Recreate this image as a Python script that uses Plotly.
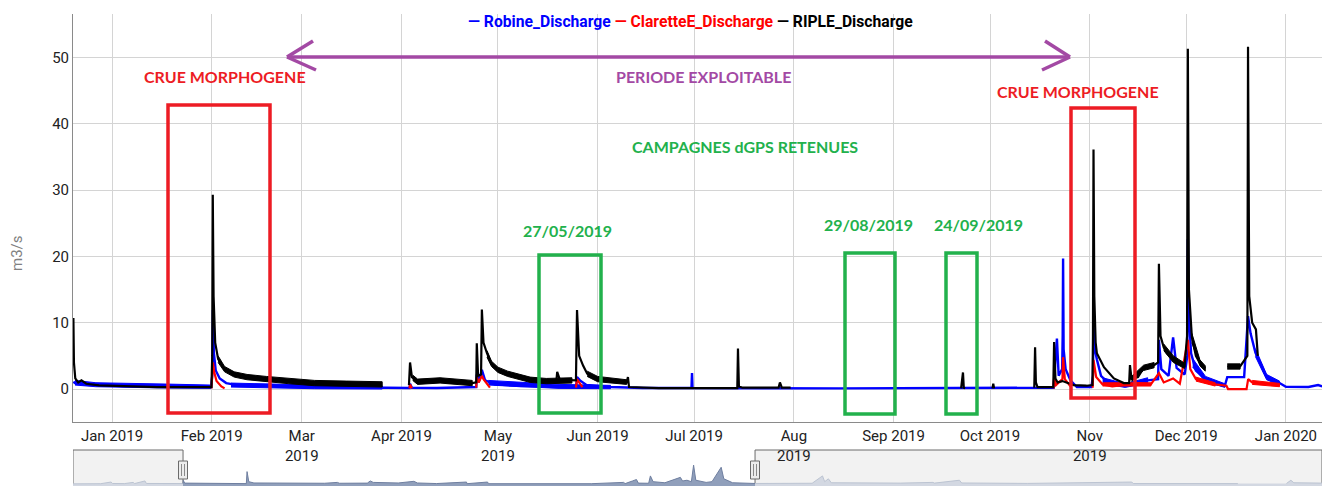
import plotly.graph_objects as go

# ---------------- data ----------------
robine = [
    ("2018-12-20 00:00", 1.1), ("2018-12-20 12:00", 0.9), ("2018-12-23 00:00", 0.7),
    ("2018-12-27 00:00", 0.6), ("2019-01-05 00:00", 0.45), ("2019-01-18 00:00", 0.4),
    ("2019-01-31 20:00", 0.35), ("2019-02-01 04:00", 2.0), ("2019-02-01 09:00", 11.9),
    ("2019-02-01 16:00", 5.5), ("2019-02-02 06:00", 2.8), ("2019-02-03 12:00", 1.6),
    ("2019-02-05 12:00", 0.9), ("2019-02-09 00:00", 0.6), ("2019-02-14 00:00", 0.45),
    ("2019-02-19 00:00", 0.6), ("2019-02-21 00:00", 0.4), ("2019-03-05 00:00", 0.3),
    ("2019-03-20 00:00", 0.25), ("2019-04-01 00:00", 0.12), ("2019-04-03 12:00", 0.15),
    ("2019-04-03 16:00", 0.8), ("2019-04-04 06:00", 0.2), ("2019-04-12 00:00", 0.15),
    ("2019-04-22 00:00", 0.25), ("2019-04-24 06:00", 0.3), ("2019-04-24 10:00", 2.2),
    ("2019-04-25 00:00", 1.0), ("2019-04-26 00:00", 2.9), ("2019-04-27 00:00", 1.3),
    ("2019-04-30 00:00", 0.7), ("2019-05-08 00:00", 0.45), ("2019-05-20 00:00", 0.4),
    ("2019-05-25 08:00", 0.5), ("2019-05-25 14:00", 1.8), ("2019-05-26 12:00", 1.3),
    ("2019-05-28 12:00", 0.6), ("2019-06-05 00:00", 0.3), ("2019-06-15 00:00", 0.15),
    ("2019-06-30 04:00", 0.15), ("2019-06-30 08:00", 2.4), ("2019-06-30 12:00", 0.15),
    ("2019-08-15 00:00", 0.1), ("2019-09-20 00:00", 0.12), ("2019-10-15 00:00", 0.15),
    ("2019-10-20 18:00", 0.2), ("2019-10-21 19:00", 7.6), ("2019-10-22 08:00", 2.0),
    ("2019-10-23 10:00", 3.0), ("2019-10-23 14:00", 8.1), ("2019-10-23 17:00", 19.7),
    ("2019-10-23 21:00", 6.0), ("2019-10-24 12:00", 3.0), ("2019-10-26 00:00", 1.3),
    ("2019-10-28 00:00", 0.3), ("2019-11-01 12:00", 0.3), ("2019-11-02 00:00", 2.0),
    ("2019-11-02 04:00", 9.3), ("2019-11-02 14:00", 6.0), ("2019-11-03 06:00", 4.4),
    ("2019-11-04 12:00", 2.0), ("2019-11-07 00:00", 0.8), ("2019-11-12 00:00", 0.5),
    ("2019-11-16 00:00", 0.8), ("2019-11-19 00:00", 1.3), ("2019-11-22 06:00", 1.5),
    ("2019-11-22 12:00", 7.4), ("2019-11-23 06:00", 3.0), ("2019-11-25 12:00", 2.0),
    ("2019-11-26 22:00", 7.8), ("2019-11-28 00:00", 3.2), ("2019-11-30 12:00", 2.2),
    ("2019-12-01 08:00", 5.0), ("2019-12-01 12:00", 22.6), ("2019-12-01 18:00", 11.9),
    ("2019-12-02 12:00", 5.4), ("2019-12-04 00:00", 2.8), ("2019-12-07 00:00", 1.5),
    ("2019-12-10 00:00", 0.8), ("2019-12-13 00:00", 0.5), ("2019-12-13 18:00", 1.8),
    ("2019-12-19 00:00", 1.8), ("2019-12-20 05:00", 11.0), ("2019-12-21 00:00", 8.4),
    ("2019-12-22 12:00", 5.5), ("2019-12-24 00:00", 3.9), ("2019-12-26 00:00", 1.8),
    ("2019-12-30 00:00", 0.9), ("2020-01-01 00:00", 0.35), ("2020-01-08 00:00", 0.3),
    ("2020-01-11 00:00", 0.6), ("2020-01-12 06:00", 0.4),
]
# spread (low, high) of the noisy blue signal where it shows as a thick band
robine_band = [
    ("2018-12-20 12:00", 0.6, 1.3), ("2018-12-27 00:00", 0.35, 0.95),
    ("2019-01-18 00:00", 0.15, 0.75), ("2019-01-31 18:00", 0.1, 0.6), None,
    ("2019-02-07 00:00", 0.3, 0.9), ("2019-03-05 00:00", 0.05, 0.6),
    ("2019-03-26 00:00", 0.0, 0.5), None,
    ("2019-04-28 00:00", 0.6, 1.3), ("2019-05-20 00:00", 0.1, 0.7),
    ("2019-06-05 00:00", 0.05, 0.55), None,
    ("2019-11-05 00:00", 0.8, 1.7), ("2019-11-12 00:00", 0.25, 0.8),
    ("2019-11-19 00:00", 0.9, 1.7), None,
    ("2019-12-03 00:00", 3.3, 4.6), ("2019-12-07 00:00", 1.1, 1.9),
    ("2019-12-13 00:00", 0.25, 0.8), None,
    ("2019-12-22 12:00", 4.9, 6.1), ("2019-12-26 00:00", 1.4, 2.2),
    ("2019-12-30 00:00", 0.6, 1.2),
]

clarette = [
    ("2019-01-31 22:00", 0.1), ("2019-02-01 09:00", 4.0), ("2019-02-01 18:00", 2.6),
    ("2019-02-02 12:00", 1.2), ("2019-02-04 00:00", 0.4), ("2019-02-05 00:00", 0.1),
    ("2019-02-05 06:00", None),
    ("2019-04-03 12:00", 0.1), ("2019-04-03 16:00", 0.7), ("2019-04-04 06:00", 0.1),
    ("2019-04-04 12:00", None),
    ("2019-04-24 06:00", 0.2), ("2019-04-24 10:00", 1.8), ("2019-04-25 00:00", 1.0),
    ("2019-04-26 00:00", 2.0), ("2019-04-26 12:00", 1.5), ("2019-04-27 12:00", 0.8),
    ("2019-04-28 12:00", 0.2), ("2019-04-29 00:00", None),
    ("2019-05-25 06:00", 0.2), ("2019-05-25 14:00", 1.5), ("2019-05-26 06:00", 1.0),
    ("2019-05-27 06:00", 0.3), ("2019-05-27 12:00", None),
    ("2019-10-20 18:00", 0.1), ("2019-10-20 22:00", 1.8), ("2019-10-21 12:00", 0.6),
    ("2019-10-23 12:00", 1.5), ("2019-10-23 17:00", 4.8), ("2019-10-24 06:00", 1.5),
    ("2019-10-26 00:00", 0.4), ("2019-10-26 06:00", None),
    ("2019-11-01 22:00", 0.2), ("2019-11-02 04:00", 4.4), ("2019-11-03 00:00", 1.8),
    ("2019-11-05 00:00", 0.7), ("2019-11-08 00:00", 0.4), ("2019-11-12 00:00", 0.7),
    ("2019-11-16 00:00", 0.9), ("2019-11-20 00:00", 0.7), ("2019-11-22 12:00", 2.4),
    ("2019-11-24 00:00", 1.0), ("2019-11-26 22:00", 1.6), ("2019-11-29 00:00", 0.8),
    ("2019-12-01 12:00", 7.4), ("2019-12-02 06:00", 3.0), ("2019-12-04 00:00", 1.5),
    ("2019-12-07 00:00", 1.0), ("2019-12-10 00:00", 0.7), ("2019-12-13 12:00", 0.5),
    ("2019-12-14 00:00", 0.0), ("2019-12-19 18:00", 0.0), ("2019-12-20 06:00", 1.5),
    ("2019-12-21 12:00", 1.0), ("2019-12-25 00:00", 0.8), ("2019-12-30 00:00", 0.6),
]
clarette_band = [
    ("2019-11-05 00:00", 0.45, 0.95), ("2019-11-12 00:00", 0.45, 0.95),
    ("2019-11-20 00:00", 0.45, 0.95), None,
    ("2019-12-04 00:00", 1.2, 1.8), ("2019-12-10 00:00", 0.45, 0.95), None,
    ("2019-12-21 12:00", 0.7, 1.3), ("2019-12-30 00:00", 0.35, 0.85),
]

riple = [
    ("2018-12-20 00:00", 10.7), ("2018-12-20 04:00", 4.0), ("2018-12-20 14:00", 1.6),
    ("2018-12-21 12:00", 1.0), ("2018-12-22 12:00", 1.3), ("2018-12-24 00:00", 0.8),
    ("2018-12-28 00:00", 0.55), ("2019-01-05 00:00", 0.4), ("2019-01-15 00:00", 0.3),
    ("2019-01-31 22:00", 0.3), ("2019-02-01 04:00", 5.0), ("2019-02-01 08:00", 29.3),
    ("2019-02-01 14:00", 14.0), ("2019-02-02 02:00", 7.0), ("2019-02-03 00:00", 4.5),
    ("2019-02-05 00:00", 3.0), ("2019-02-08 00:00", 2.2), ("2019-02-12 00:00", 1.8),
    ("2019-02-18 00:00", 1.5), ("2019-02-25 00:00", 1.2), ("2019-03-05 00:00", 0.9),
    ("2019-03-15 00:00", 0.8), ("2019-03-26 00:00", 0.7), ("2019-03-26 06:00", None),
    ("2019-04-03 08:00", 0.6), ("2019-04-03 16:00", 4.0), ("2019-04-04 06:00", 1.8),
    ("2019-04-06 00:00", 1.1), ("2019-04-11 00:00", 1.0), ("2019-04-13 00:00", 1.5),
    ("2019-04-15 00:00", 1.0), ("2019-04-23 00:00", 0.9), ("2019-04-24 06:00", 1.0),
    ("2019-04-24 10:00", 6.9), ("2019-04-24 20:00", 2.0), ("2019-04-25 18:00", 2.2),
    ("2019-04-26 00:00", 12.0), ("2019-04-26 12:00", 7.0), ("2019-04-27 14:00", 5.4),
    ("2019-04-29 00:00", 3.8), ("2019-05-01 00:00", 2.9), ("2019-05-04 00:00", 2.3),
    ("2019-05-06 12:00", 1.9), ("2019-05-11 00:00", 1.4), ("2019-05-16 00:00", 1.2),
    ("2019-05-19 04:00", 1.2), ("2019-05-19 10:00", 2.6), ("2019-05-20 06:00", 1.4),
    ("2019-05-25 06:00", 1.3), ("2019-05-25 14:00", 11.9), ("2019-05-26 06:00", 5.0),
    ("2019-05-27 12:00", 3.5), ("2019-05-28 18:00", 2.3), ("2019-06-01 00:00", 1.5),
    ("2019-06-05 00:00", 1.2), ("2019-06-10 00:00", 1.0), ("2019-06-10 10:00", 1.8),
    ("2019-06-10 18:00", 0.3), ("2019-06-20 00:00", 0.15), ("2019-07-14 10:00", 0.15),
    ("2019-07-14 15:00", 6.1), ("2019-07-14 22:00", 0.4), ("2019-07-16 00:00", 0.2),
    ("2019-07-27 06:00", 0.2), ("2019-07-27 16:00", 1.0), ("2019-07-28 06:00", 0.2),
    ("2019-07-31 00:00", 0.2), ("2019-07-31 06:00", None),
    ("2019-09-22 00:00", 0.1), ("2019-09-22 14:00", 2.5), ("2019-09-22 20:00", 0.2),
    ("2019-09-23 06:00", 0.1), ("2019-09-23 12:00", None),
    ("2019-10-01 18:00", 0.1), ("2019-10-02 00:00", 0.8), ("2019-10-02 06:00", 0.1),
    ("2019-10-02 12:00", None),
    ("2019-10-14 18:00", 0.2), ("2019-10-15 00:00", 6.3), ("2019-10-15 06:00", 1.0),
    ("2019-10-15 18:00", 0.3), ("2019-10-20 16:00", 0.3), ("2019-10-20 22:00", 7.1),
    ("2019-10-21 08:00", 1.6), ("2019-10-22 00:00", 1.0), ("2019-10-23 12:00", 1.2),
    ("2019-10-25 00:00", 0.9), ("2019-10-27 00:00", 0.6), ("2019-10-31 00:00", 0.5),
    ("2019-11-01 20:00", 0.6), ("2019-11-02 00:00", 8.0), ("2019-11-02 04:00", 36.1),
    ("2019-11-02 10:00", 14.0), ("2019-11-02 20:00", 7.0), ("2019-11-03 05:00", 5.4),
    ("2019-11-05 10:00", 3.3), ("2019-11-08 12:00", 1.6), ("2019-11-11 14:00", 0.9),
    ("2019-11-13 06:00", 0.9), ("2019-11-13 12:00", 3.6), ("2019-11-14 00:00", 1.5),
    ("2019-11-16 00:00", 1.8), ("2019-11-17 18:00", 3.2), ("2019-11-21 00:00", 3.6),
    ("2019-11-22 06:00", 4.0), ("2019-11-22 12:00", 18.9), ("2019-11-23 00:00", 8.0),
    ("2019-11-24 00:00", 6.3), ("2019-11-25 00:00", 5.4), ("2019-11-27 00:00", 4.5),
    ("2019-11-28 00:00", 4.0), ("2019-11-30 12:00", 3.5), ("2019-12-01 06:00", 8.0),
    ("2019-12-01 12:00", 51.3), ("2019-12-01 20:00", 15.0), ("2019-12-02 18:00", 7.8),
    ("2019-12-04 00:00", 5.0), ("2019-12-05 06:00", 3.9), ("2019-12-06 22:00", 3.1),
    ("2019-12-07 06:00", None),
    ("2019-12-13 18:00", 3.4), ("2019-12-17 18:00", 3.4), ("2019-12-20 00:00", 5.0),
    ("2019-12-20 05:00", 51.6), ("2019-12-20 14:00", 14.0), ("2019-12-21 12:00", 10.0),
    ("2019-12-22 16:00", 9.0), ("2019-12-23 06:00", 5.0),
]
riple_band = [
    ("2019-02-03 00:00", 4.0, 5.0), ("2019-02-05 00:00", 2.6, 3.4),
    ("2019-02-08 00:00", 1.8, 2.6), ("2019-02-12 00:00", 1.4, 2.2),
    ("2019-02-18 00:00", 1.1, 1.9), ("2019-02-25 00:00", 0.8, 1.6),
    ("2019-03-05 00:00", 0.5, 1.3), ("2019-03-15 00:00", 0.4, 1.2),
    ("2019-03-26 00:00", 0.3, 1.1), None,
    ("2019-04-04 12:00", 1.3, 2.1), ("2019-04-06 00:00", 0.7, 1.5),
    ("2019-04-13 00:00", 0.9, 1.7), ("2019-04-23 00:00", 0.5, 1.3), None,
    ("2019-04-27 14:00", 4.8, 5.8), ("2019-04-29 00:00", 3.4, 4.2),
    ("2019-05-01 00:00", 2.5, 3.3), ("2019-05-04 00:00", 1.9, 2.7),
    ("2019-05-11 00:00", 1.0, 1.8), ("2019-05-16 00:00", 0.8, 1.6),
    ("2019-05-24 00:00", 0.9, 1.7), None,
    ("2019-05-28 18:00", 1.9, 2.7), ("2019-06-01 00:00", 1.1, 1.9),
    ("2019-06-10 00:00", 0.7, 1.4), None,
    ("2019-11-14 00:00", 1.1, 1.9), ("2019-11-17 18:00", 2.8, 3.6),
    ("2019-11-21 00:00", 3.2, 4.0), None,
    ("2019-11-24 00:00", 5.8, 6.8), ("2019-11-27 00:00", 4.0, 5.0),
    ("2019-11-30 12:00", 3.1, 3.9), None,
    ("2019-12-02 18:00", 7.0, 8.4), ("2019-12-05 06:00", 3.5, 4.4),
    ("2019-12-06 22:00", 2.7, 3.5), None,
    ("2019-12-13 18:00", 3.0, 3.8), ("2019-12-17 18:00", 3.0, 3.8),
]

# navigator (range selector) overview, in navigator units
nav_before = [
    ("2018-10-06 04:00", 3.0), ("2018-10-25 00:00", 3.2), ("2018-11-01 00:00", 5.5),
    ("2018-11-02 00:00", 3.5), ("2018-11-10 00:00", 3.3), ("2018-11-16 00:00", 5.0),
    ("2018-11-17 00:00", 3.4), ("2018-11-24 00:00", 7.0), ("2018-11-25 00:00", 3.5),
    ("2018-12-19 21:00", 3.4),
]
nav_window = [
    ("2018-12-19 21:00", 3.4), ("2018-12-20 00:00", 8.0), ("2018-12-21 00:00", 4.0),
    ("2019-01-31 20:00", 3.3), ("2019-02-01 08:00", 20.0), ("2019-02-02 12:00", 6.0),
    ("2019-02-06 00:00", 4.2), ("2019-03-26 00:00", 3.8), ("2019-04-03 16:00", 5.0),
    ("2019-04-05 00:00", 3.8), ("2019-04-24 00:00", 4.0), ("2019-04-26 00:00", 7.0),
    ("2019-04-28 00:00", 5.0), ("2019-05-15 00:00", 4.2), ("2019-05-25 14:00", 6.5),
    ("2019-05-28 00:00", 4.2), ("2019-06-10 00:00", 3.4), ("2019-06-30 08:00", 5.5),
    ("2019-06-30 14:00", 3.2), ("2019-07-14 15:00", 5.5), ("2019-07-15 06:00", 3.2),
    ("2019-09-22 14:00", 4.0), ("2019-09-23 00:00", 3.2), ("2019-10-15 00:00", 5.0),
    ("2019-10-16 00:00", 3.3), ("2019-10-21 00:00", 7.0), ("2019-10-23 17:00", 9.0),
    ("2019-10-25 00:00", 4.0), ("2019-11-01 00:00", 3.8), ("2019-11-02 04:00", 14.0),
    ("2019-11-04 00:00", 6.0), ("2019-11-12 00:00", 4.5), ("2019-11-22 12:00", 12.0),
    ("2019-11-24 00:00", 7.0), ("2019-11-27 00:00", 8.0), ("2019-11-30 00:00", 6.0),
    ("2019-12-01 12:00", 29.0), ("2019-12-03 00:00", 8.0), ("2019-12-10 00:00", 5.0),
    ("2019-12-14 00:00", 6.0), ("2019-12-20 05:00", 26.0), ("2019-12-22 00:00", 10.0),
    ("2019-12-28 00:00", 4.5), ("2020-01-12 05:00", 3.5),
]
nav_after = [
    ("2020-01-12 05:00", 3.5), ("2020-02-20 00:00", 3.8), ("2020-02-27 00:00", 14.0),
    ("2020-02-28 12:00", 6.0), ("2020-03-02 00:00", 10.0), ("2020-03-04 00:00", 4.5),
    ("2020-04-20 00:00", 4.0), ("2020-05-12 00:00", 5.0), ("2020-05-13 00:00", 4.0),
    ("2020-05-30 00:00", 8.0), ("2020-05-31 12:00", 4.2), ("2020-07-15 00:00", 3.6),
    ("2020-09-24 00:00", 5.5), ("2020-09-25 00:00", 3.4), ("2020-12-05 00:00", 3.3),
    ("2020-12-05 06:00", None), ("2021-01-07 00:00", 3.5), ("2021-01-10 00:00", 8.0),
    ("2021-01-12 00:00", 4.5), ("2021-01-31 03:00", 4.0),
]

x_tickvals = ["2019-01-01", "2019-02-01", "2019-03-01", "2019-04-01", "2019-05-01",
              "2019-06-01", "2019-07-01", "2019-08-01", "2019-09-01", "2019-10-01",
              "2019-11-01", "2019-12-01", "2020-01-01"]
x_ticktext = ["Jan 2019", "Feb 2019", "Mar<br>2019", "Apr 2019", "May<br>2019",
              "Jun 2019", "Jul 2019", "Aug<br>2019", "Sep 2019", "Oct 2019",
              "Nov<br>2019", "Dec 2019", "Jan 2020"]
y_tickvals = [0, 10, 20, 30, 40, 50]

main_range = ["2018-12-19 21:00", "2020-01-12 05:00"]
nav_range = ["2018-10-06 04:00", "2021-01-31 03:00"]

# ---------------- layout helpers (page pixel -> paper) ----------------
OFF = 0                      # body margin removed below, figure sits at (0, 0)
W, H = 1322 - OFF, 486 - OFF
ML, MR, MT, MB = 73 - OFF, 0, 14 - OFF, 0
PW, PH = W - ML - MR, H - MT - MB


def fx(px):
    return (px - OFF - ML) / PW


def fy(py):
    return (OFF + H - MB - py) / PH


def unzip(pts):
    return [p[0] for p in pts], [p[1] for p in pts]


def band_segments(band):
    seg = []
    for item in band + [None]:
        if item is None:
            if seg:
                yield seg
            seg = []
        else:
            seg.append(item)


fig = go.Figure()


def add_series(name, pts, band, color, width):
    xs, ys = unzip(pts)
    fig.add_trace(go.Scatter(x=xs, y=ys, name=name, mode="lines",
                             line=dict(color=color, width=width),
                             connectgaps=False, xaxis="x", yaxis="y"))
    for seg in band_segments(band):
        bx = [s[0] for s in seg] + [s[0] for s in reversed(seg)]
        by = [s[2] for s in seg] + [s[1] for s in reversed(seg)]
        fig.add_trace(go.Scatter(x=bx, y=by, mode="lines", fill="toself",
                                 fillcolor=color, line=dict(color=color, width=1),
                                 showlegend=False, hoverinfo="skip",
                                 xaxis="x", yaxis="y"))


add_series("Robine_Discharge", robine, robine_band, "#0000ff", 2.4)
add_series("ClaretteE_Discharge", clarette, clarette_band, "#ff0000", 2.2)
add_series("RIPLE_Discharge", riple, riple_band, "#000000", 2.2)

for pts, fillc, linec in [(nav_before, "#d3d8e2", "#bcc4d2"),
                          (nav_window, "#909fbb", "#6f7fa0"),
                          (nav_after, "#d3d8e2", "#bcc4d2")]:
    xs, ys = unzip(pts)
    fig.add_trace(go.Scatter(x=xs, y=ys, mode="lines", fill="tozeroy",
                             fillcolor=fillc, line=dict(color=linec, width=1),
                             connectgaps=False, showlegend=False,
                             xaxis="x2", yaxis="y2", hoverinfo="skip"))

tickfont = dict(family="Roboto, Arial, sans-serif", size=15, color="#222222")
grid = "#d4d4d4"

fig.update_layout(
    width=W, height=H,
    margin=dict(l=ML, r=MR, t=MT, b=MB, pad=0, autoexpand=False),
    paper_bgcolor="white", plot_bgcolor="rgba(0,0,0,0)",
    showlegend=False, hovermode=False,
    xaxis=dict(domain=[0, 1], anchor="y", type="date", range=main_range,
               tickmode="array", tickvals=x_tickvals, ticktext=x_ticktext,
               showgrid=True, gridcolor=grid, gridwidth=1, zeroline=False,
               showline=True, linecolor="#8a8a8a", linewidth=1, ticks="",
               tickfont=tickfont, tickangle=0, automargin=False),
    yaxis=dict(domain=[fy(422), 1], anchor="x", range=[-4.97, 56.55],
               tickmode="array", tickvals=y_tickvals,
               showgrid=True, gridcolor=grid, gridwidth=1, zeroline=False,
               showline=True, linecolor="#8a8a8a", linewidth=1, ticks="",
               ticklen=0, tickfont=tickfont, automargin=False),
    xaxis2=dict(domain=[0, 1], anchor="y2", type="date", range=nav_range,
                visible=False, automargin=False),
    yaxis2=dict(domain=[0, fy(450)], anchor="x2", range=[0, 50], visible=False,
                automargin=False),
)

shapes = []
# navigator masks (outside the shown window)
for x0, x1 in [(nav_range[0], main_range[0]), (main_range[1], nav_range[1])]:
    shapes.append(dict(type="rect", xref="x2", yref="paper", x0=x0, x1=x1,
                       y0=fy(490), y1=fy(450), layer="below",
                       fillcolor="#f2f2f2", line=dict(color="#6b6b6b", width=1)))
# navigator handles
for hx in [183, 755]:
    shapes.append(dict(type="rect", xref="paper", yref="paper",
                       x0=fx(hx - 4.5), x1=fx(hx + 4.5), y0=fy(479), y1=fy(461),
                       fillcolor="#ececec", line=dict(color="#6b6b6b", width=1)))
    for dx in (-1.5, 1.5):
        shapes.append(dict(type="line", xref="paper", yref="paper",
                           x0=fx(hx + dx), x1=fx(hx + dx), y0=fy(476), y1=fy(464),
                           line=dict(color="#8a8a8a", width=1)))

RED, GREEN, PURPLE = "#ED1C24", "#22B14C", "#A349A4"
# annotation rectangles (pixel boxes)
for (x0, y0, x1, y1), col in [((168, 105, 270, 413), RED),
                              ((539, 255, 601, 413), GREEN),
                              ((845, 253, 895, 414), GREEN),
                              ((946, 253, 977, 414), GREEN),
                              ((1071, 108, 1135, 398), RED)]:
    shapes.append(dict(type="rect", xref="paper", yref="paper",
                       x0=fx(x0), x1=fx(x1), y0=fy(y1), y1=fy(y0),
                       line=dict(color=col, width=3.5), fillcolor="rgba(0,0,0,0)"))
# purple double arrow
for (ax0, ay0, ax1, ay1) in [(287, 57, 1070, 57),
                             (287, 57, 313, 41), (287, 57, 316, 70),
                             (1070, 57, 1045, 41), (1070, 57, 1042, 70)]:
    shapes.append(dict(type="line", xref="paper", yref="paper",
                       x0=fx(ax0), y0=fy(ay0), x1=fx(ax1), y1=fy(ay1),
                       line=dict(color=PURPLE, width=3.5)))
fig.update_layout(shapes=shapes)

afont = "Lato, 'Open Sans', sans-serif"
annotations = []
for text, cx, cy, col in [("CRUE MORPHOGENE", 225, 76, RED),
                          ("PERIODE EXPLOITABLE", 703, 76, PURPLE),
                          ("CAMPAGNES dGPS RETENUES", 745, 146, GREEN),
                          ("27/05/2019", 567, 230, GREEN),
                          ("29/08/2019", 868, 224, GREEN),
                          ("24/09/2019", 978, 224, GREEN),
                          ("CRUE MORPHOGENE", 1078, 91, RED)]:
    annotations.append(dict(text="<b>%s</b>" % text, x=fx(cx), y=fy(cy),
                            xref="paper", yref="paper", showarrow=False,
                            xanchor="center", yanchor="middle",
                            font=dict(family=afont, size=16, color=col)))
# legend line
legend_html = ("<span style='color:#0000ff'><b>— Robine_Discharge</b></span> "
               "<span style='color:#ff0000'><b>— ClaretteE_Discharge</b></span> "
               "<span style='color:#000000'><b>— RIPLE_Discharge</b></span>")
annotations.append(dict(text=legend_html, x=fx(690), y=fy(22), xref="paper",
                        yref="paper", showarrow=False, xanchor="center",
                        yanchor="middle",
                        font=dict(family="Roboto, Arial, sans-serif", size=15.7)))
# y axis title
annotations.append(dict(text="m3/s", x=fx(17), y=fy(253), xref="paper", yref="paper",
                        showarrow=False, textangle=-90, xanchor="center",
                        yanchor="middle",
                        font=dict(family="Roboto, Arial, sans-serif", size=15,
                                  color="#808080")))
fig.update_layout(annotations=annotations)

# the page's default body margin would push the figure off the 1322x486 window
fig.write_html("out.html",
               config={"displayModeBar": False},
               post_script="document.body.style.margin='0';"
                           "document.body.style.overflow='hidden';")
